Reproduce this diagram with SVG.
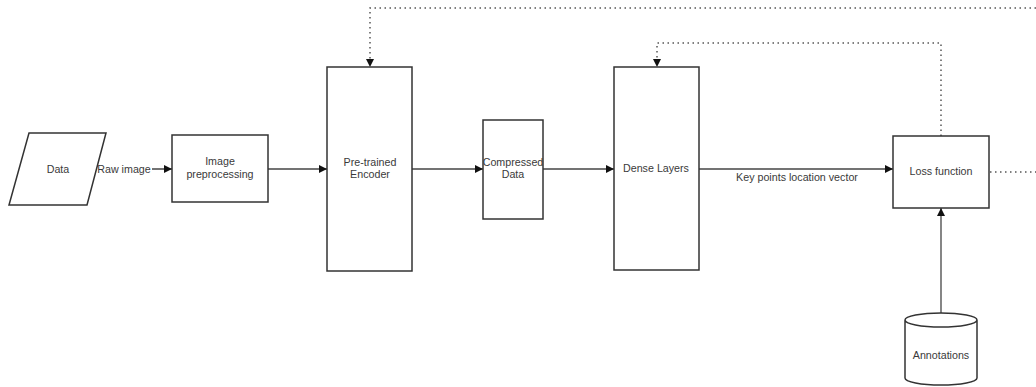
<svg xmlns="http://www.w3.org/2000/svg" width="1036" height="387" viewBox="0 0 1036 387">
<style>
.n{fill:#fff;stroke:#333;stroke-width:1.5}
.t{font-family:"Liberation Sans",Arial,sans-serif;font-size:10.7px;fill:#3a3a3a;text-anchor:middle}
.c{fill:none;stroke:#444;stroke-width:1.3}
.d{fill:none;stroke:#555;stroke-width:1.5;stroke-dasharray:1.5 3.5}
</style>
<defs>
<marker id="a" viewBox="0 0 10 10" refX="10" refY="5" markerWidth="8" markerHeight="8" markerUnits="userSpaceOnUse" orient="auto">
<path d="M0,0 L10,5 L0,10 z" fill="#111"/>
</marker>
</defs>
<rect width="1036" height="387" fill="#fff"/>
<g id="connectors">
<line class="c" x1="96" y1="169" x2="172" y2="169" marker-end="url(#a)"/>
<line class="c" x1="268" y1="169" x2="327" y2="169" marker-end="url(#a)"/>
<line class="c" x1="412" y1="169" x2="483" y2="169" marker-end="url(#a)"/>
<line class="c" x1="543" y1="169" x2="614" y2="169" marker-end="url(#a)"/>
<line class="c" x1="699" y1="169" x2="893" y2="169" marker-end="url(#a)"/>
<line class="c" x1="941" y1="314" x2="941" y2="208" marker-end="url(#a)"/>
<polyline class="d" points="1036,8 370,8 370,60"/>
<path d="M366,59 L370,67 L374,59 z" fill="#111"/>
<polyline class="d" points="941,136 941,43 657,43 657,60"/>
<path d="M653,59 L657,67 L661,59 z" fill="#111"/>
<line class="d" x1="990" y1="172" x2="1036" y2="172"/>
<rect x="97" y="162" width="55" height="13" fill="#fff"/>
<text class="t" x="124" y="172.5">Raw image</text>
<text class="t" x="797" y="181">Key points location vector</text>
</g>
<g id="data">
<polygon class="n" points="29,133 106,133 87,205 9,205"/>
<text class="t" x="58" y="172.5">Data</text>
</g>
<g id="preprocessing">
<rect class="n" x="172" y="135" width="96" height="67"/>
<text class="t" x="220" y="165">Image</text>
<text class="t" x="220" y="178">preprocessing</text>
</g>
<g id="encoder">
<rect class="n" x="327" y="67" width="85" height="204"/>
<text class="t" x="370" y="166">Pre-trained</text>
<text class="t" x="370" y="178">Encoder</text>
</g>
<g id="compressed">
<rect class="n" x="483" y="120" width="60" height="99"/>
<text class="t" x="513" y="166">Compressed</text>
<text class="t" x="513" y="178">Data</text>
</g>
<g id="dense">
<rect class="n" x="614" y="67" width="85" height="203"/>
<text class="t" x="656" y="172">Dense Layers</text>
</g>
<g id="loss">
<rect class="n" x="893" y="136" width="96" height="72"/>
<text class="t" x="941" y="175">Loss function</text>
</g>
<g id="annotations">
<path class="n" d="M905,320 L905,378 A36,7 0 0 0 977,378 L977,320 A36,7 0 0 0 905,320 A36,7 0 0 0 977,320"/>
<text class="t" x="941" y="359">Annotations</text>
</g>
</svg>
